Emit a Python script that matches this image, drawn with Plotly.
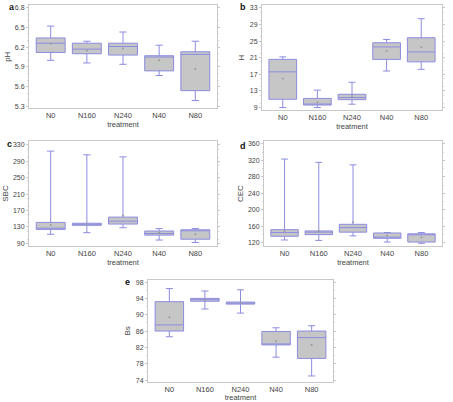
import plotly.graph_objects as go

categories = ["N0", "N160", "N240", "N40", "N80"]

# pH
ph_low = [6.00, 5.96, 5.94, 5.77, 5.39]
ph_q1 = [6.12, 6.10, 6.08, 5.84, 5.54]
ph_med = [6.26, 6.17, 6.21, 6.05, 6.09]
ph_q3 = [6.34, 6.26, 6.26, 6.07, 6.13]
ph_up = [6.52, 6.29, 6.43, 6.23, 6.29]
ph_mean = [6.25, 6.15, 6.18, 6.00, 5.87]

# H
h_low = [9.0, 9.0, 9.8, 17.8, 18.2]
h_q1 = [11.0, 9.6, 10.9, 20.6, 20.0]
h_med = [17.6, 9.8, 11.4, 23.6, 22.4]
h_q3 = [20.6, 11.2, 12.2, 24.6, 25.8]
h_up = [21.2, 13.2, 15.1, 25.4, 30.4]
h_mean = [16.0, 10.3, 11.8, 22.6, 23.6]

# SBC
sbc_low = [112, 116, 128, 98, 92]
sbc_q1 = [124, 134, 137, 110, 100]
sbc_med = [127, 136, 144, 114, 121]
sbc_q3 = [141, 139, 154, 120, 123]
sbc_up = [315, 306, 301, 126, 126]
sbc_mean = [135, 137, 158, 116, 112]

# CEC
cec_low = [127, 126, 137, 122, 119]
cec_q1 = [136, 140, 146, 131, 122]
cec_med = [145, 146, 157, 134, 140]
cec_q3 = [152, 149, 165, 144, 142]
cec_up = [323, 315, 309, 145, 145]
cec_mean = [148, 148, 170, 138, 133]

# Bs
bs_low = [84.6, 91.4, 90.4, 79.6, 75.0]
bs_q1 = [86.0, 93.3, 92.6, 82.6, 79.3]
bs_med = [87.5, 93.7, 92.8, 82.7, 84.4]
bs_q3 = [93.2, 94.0, 93.1, 85.9, 86.0]
bs_up = [96.4, 95.8, 96.1, 86.8, 87.3]
bs_mean = [89.4, 93.5, 92.8, 83.5, 82.6]

panels = [
    dict(name="pH", letter="a", low=ph_low, q1=ph_q1, med=ph_med, q3=ph_q3, up=ph_up, mean=ph_mean,
         ticks=[5.3, 5.6, 5.9, 6.2, 6.5, 6.8], yr=[5.27, 6.84], dx=[29, 217], dy=[4, 108], lx=12, ly=6),
    dict(name="H", letter="b", low=h_low, q1=h_q1, med=h_med, q3=h_q3, up=h_up, mean=h_mean,
         ticks=[9, 13, 17, 21, 25, 29, 33], yr=[8.3, 33.7], dx=[262, 442], dy=[4, 110], lx=243, ly=6),
    dict(name="SBC", letter="c", low=sbc_low, q1=sbc_q1, med=sbc_med, q3=sbc_q3, up=sbc_up, mean=sbc_mean,
         ticks=[90, 130, 170, 210, 250, 290, 330], yr=[84, 339], dx=[29, 217], dy=[141, 246], lx=9, ly=144),
    dict(name="CEC", letter="d", low=cec_low, q1=cec_q1, med=cec_med, q3=cec_q3, up=cec_up, mean=cec_mean,
         ticks=[120, 160, 200, 240, 280, 320, 360], yr=[113, 366], dx=[264, 442], dy=[141, 246], lx=243, ly=146),
    dict(name="Bs", letter="e", low=bs_low, q1=bs_q1, med=bs_med, q3=bs_q3, up=bs_up, mean=bs_mean,
         ticks=[74, 78, 82, 86, 90, 94, 98], yr=[73.5, 98.6], dx=[148, 333], dy=[280, 383], lx=127, ly=282),
]

W, H = 453, 402
xpos = list(range(len(categories)))
fig = go.Figure()
layout = {}
annotations = []
for k, p in enumerate(panels):
    n = "" if k == 0 else str(k + 1)
    xa, ya = "x" + n, "y" + n
    fig.add_trace(go.Box(
        x=xpos, q1=p["q1"], median=p["med"], q3=p["q3"],
        lowerfence=p["low"], upperfence=p["up"],
        xaxis=xa, yaxis=ya, width=0.8, whiskerwidth=0.25,
        fillcolor="#c6c6c6", line=dict(color="#8c8ce0", width=1),
        showlegend=False, hoverinfo="skip"))
    fig.add_trace(go.Scatter(
        x=xpos, y=p["mean"], mode="markers", xaxis=xa, yaxis=ya,
        marker=dict(size=2, color="#9a9a9a"), showlegend=False, hoverinfo="skip"))
    layout["xaxis" + n] = dict(
        domain=[p["dx"][0] / W, p["dx"][1] / W], anchor=ya, range=[-0.6, 4.6],
        tickvals=xpos, ticktext=categories, showgrid=False, zeroline=False,
        showline=True, linecolor="#c8c8c8", mirror=True, ticks="",
        tickfont=dict(size=7.5, color="#444", family="Liberation Sans"),
        title=dict(text="treatment", font=dict(size=7.5, color="#444", family="Liberation Sans"), standoff=0))
    layout["yaxis" + n] = dict(
        domain=[1 - p["dy"][1] / H, 1 - p["dy"][0] / H], anchor=xa, range=p["yr"],
        tickvals=p["ticks"], showgrid=False, zeroline=False,
        showline=True, linecolor="#c8c8c8", mirror="ticks", ticks="outside", ticklen=2,
        tickcolor="#c8c8c8",
        minor=dict(ticks="outside", ticklen=1, nticks=5, tickcolor="#d8d8d8"),
        tickfont=dict(size=7, color="#444", family="Liberation Sans"),
        title=dict(text=p["name"], font=dict(size=8, color="#444", family="Liberation Sans"), standoff=3))
    annotations.append(dict(
        text="<b>" + p["letter"] + "</b>", x=p["lx"] / W, y=1 - p["ly"] / H,
        xref="paper", yref="paper", showarrow=False, xanchor="center", yanchor="middle",
        font=dict(size=9, color="#111", family="Liberation Sans")))

fig.update_layout(
    width=W, height=H, margin=dict(l=0, r=0, t=0, b=0),
    paper_bgcolor="white", plot_bgcolor="white",
    annotations=annotations, **layout)
fig.write_html("out.html")
